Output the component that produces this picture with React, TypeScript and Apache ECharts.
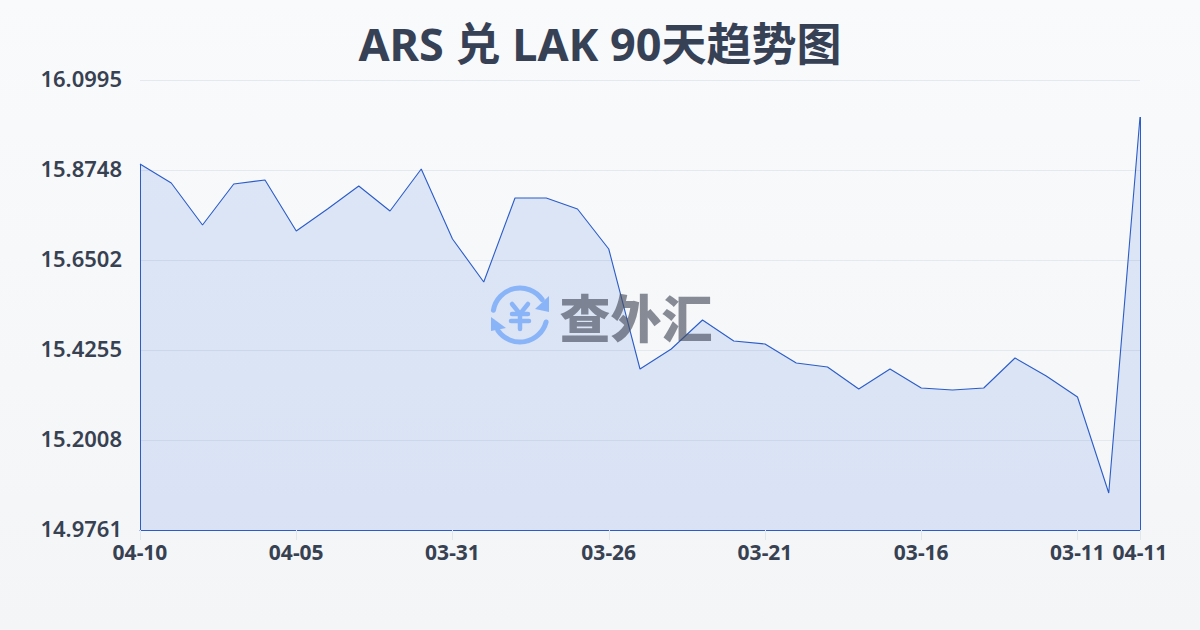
import React, { useEffect, useRef } from "react";
import * as echarts from "echarts";

const titleText = "ARS 兑 LAK 90天趋势图";
const watermarkText = "查外汇";
const dates = [
  "04-10", "04-09", "04-08", "04-07", "04-06", "04-05", "04-04", "04-03", "04-02", "04-01", "03-31",
  "03-30", "03-29", "03-28", "03-27", "03-26", "03-25", "03-24", "03-23", "03-22", "03-21",
  "03-20", "03-19", "03-18", "03-17", "03-16", "03-15", "03-14", "03-13", "03-12", "03-11", "03-10", "04-11",
];
const rates = [
  15.8898, 15.8424, 15.7375, 15.8399, 15.8499, 15.7225, 15.7775, 15.8349, 15.7725, 15.8773, 15.7026,
  15.5952, 15.8049, 15.8049, 15.7775, 15.6776, 15.378, 15.428, 15.5004, 15.4479, 15.4405,
  15.393, 15.383, 15.3281, 15.378, 15.3306, 15.3256, 15.3306, 15.4055, 15.3606, 15.3081, 15.0685, 16.0071,
];
const yTicks = [14.9761, 15.2008, 15.4255, 15.6502, 15.8748, 16.0995];
const shownDates = [0, 5, 10, 15, 20, 25, 30, 32];
const yMin = 14.9761;
const yMax = 16.0995;

const LINE = "#2b5cc8";
const LOGO = "#8ab4f8";

export default function App() {
  const ref = useRef<HTMLDivElement>(null);
  useEffect(() => {
    document.body.style.margin = "0";
    const chart = echarts.init(ref.current!, undefined, { renderer: "svg" });
    const logoStroke = { stroke: LOGO, lineWidth: 5, fill: "none", lineCap: "round" };
    const stem = { stroke: LOGO, lineWidth: 4.5, lineCap: "round" };
    chart.setOption({
      animation: false,
      backgroundColor: {
        type: "linear", x: 0, y: 0, x2: 0, y2: 1,
        colorStops: [{ offset: 0, color: "#f9fafc" }, { offset: 1, color: "#f3f5f7" }],
      },
      title: {
        text: titleText, left: "center", top: 16,
        textStyle: { fontFamily: "'Noto Sans', 'Noto Sans CJK SC', sans-serif", fontSize: 45, fontWeight: 700, color: "#374155" },
      },
      grid: { left: 140, right: 60, top: 80, bottom: 100 },
      xAxis: {
        type: "category", boundaryGap: false, data: dates,
        axisLine: { show: true, lineStyle: { color: LINE, width: 1 } },
        axisTick: { show: true, length: 10, lineStyle: { color: "#e2e6ec" }, interval: (i: number) => shownDates.includes(i) },
        axisLabel: {
          interval: (i: number) => shownDates.includes(i), margin: 11, hideOverlap: false,
          fontFamily: "'Noto Sans', sans-serif", fontSize: 21, fontWeight: 700, color: "#374151",
        },
        splitLine: { show: false },
      },
      yAxis: {
        type: "value", min: yMin, max: yMax, splitNumber: 5,
        axisLine: { show: false }, axisTick: { show: false, customValues: yTicks },
        axisLabel: {
          customValues: yTicks, margin: 18, verticalAlign: "bottom", lineHeight: 4, formatter: (v: number) => v.toFixed(4),
          fontFamily: "'Noto Sans', sans-serif", fontSize: 22, fontWeight: 600, color: "#374151",
        },
        splitLine: { show: true, lineStyle: { color: "#e5e8ee", width: 1 } },
      },
      series: [{
        type: "line", data: rates, symbol: "none", smooth: false,
        lineStyle: { color: LINE, width: 1.1 },
        areaStyle: { color: "rgba(59,110,226,0.2)" },
        markLine: {
          silent: true, symbol: "none", label: { show: false },
          lineStyle: { color: LINE, width: 1, type: "solid" },
          data: [
            [{ coord: [0, yMin] }, { coord: [0, rates[0]] }],
            [{ coord: [dates.length - 1, yMin] }, { coord: [dates.length - 1, rates[rates.length - 1]] }],
          ],
        },
      }],
      graphic: [
        { type: "arc", z: 10, shape: { cx: 520, cy: 315, r: 27, startAngle: (-170 * Math.PI) / 180, endAngle: (-35 * Math.PI) / 180 }, style: logoStroke },
        { type: "arc", z: 10, shape: { cx: 520, cy: 315, r: 27, startAngle: (15 * Math.PI) / 180, endAngle: (145 * Math.PI) / 180 }, style: logoStroke },
        { type: "polygon", z: 10, shape: { points: [[549, 296], [549, 312], [535, 309]] }, style: { fill: LOGO } },
        { type: "polygon", z: 10, shape: { points: [[491, 317], [491, 331], [506, 328]] }, style: { fill: LOGO } },
        { type: "polyline", z: 10, shape: { points: [[512, 304], [520, 314], [528, 304]] }, style: { ...stem, fill: "none" } },
        { type: "line", z: 10, shape: { x1: 512, y1: 314, x2: 528, y2: 314 }, style: stem },
        { type: "line", z: 10, shape: { x1: 511, y1: 321, x2: 529, y2: 321 }, style: stem },
        { type: "line", z: 10, shape: { x1: 520, y1: 314, x2: 520, y2: 329 }, style: stem },
        {
          type: "text", z: 10, x: 636, y: 316,
          style: {
            text: watermarkText, align: "center", verticalAlign: "middle", fill: "rgba(70,76,92,0.64)",
            font: "900 51px 'Noto Sans CJK SC', sans-serif",
          },
        },
      ],
    });
    return () => chart.dispose();
  }, []);
  return <div ref={ref} style={{ width: 1200, height: 630 }} />;
}
